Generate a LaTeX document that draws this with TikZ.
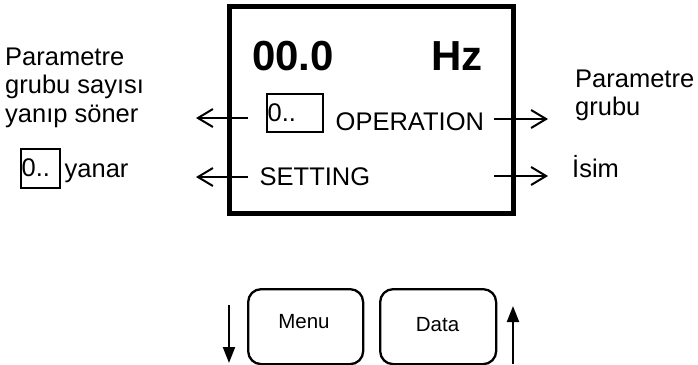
\documentclass[tikz,border=0pt]{standalone}
\usepackage{fontspec}
\setmainfont{Liberation Sans}
\usetikzlibrary{arrows.meta}
\tikzset{
  lbl/.style={anchor=base west, inner sep=0pt, font=\fontsize{25.5}{30}\selectfont},
  big/.style={anchor=base west, inner sep=0pt, font=\fontsize{42}{50}\selectfont\bfseries},
  btn/.style={draw, line width=2.3pt, rounded corners=13pt, inner sep=0pt},
  btntxt/.style={inner sep=0pt, font=\fontsize{20.5}{24}\selectfont},
  outarrow/.style={line width=2pt, -{Straight Barb[length=15pt,width=18pt,line width=2pt]}},
  keyarrow/.style={line width=2.2pt, -{Triangle[length=16pt,width=12pt]}},
  smallbox/.style={draw, line width=1.6pt, inner sep=0pt}
}
\begin{document}
\begin{tikzpicture}[x=1pt,y=-1pt]
\useasboundingbox (0,0) rectangle (698,364);
% main display
\draw[line width=5pt] (229.5,6.5) rectangle (513,213.5);
\node[big] (freq) at (252,70) {00.0};
\node[big, anchor=base east] (hz) at (483,70) {Hz};
\node[smallbox, minimum width=56pt, minimum height=38pt, anchor=north west] (zbox) at (266,93) {};
\node[lbl, anchor=base west] (zt) at (267.5,121) {0..};
\node[lbl] (op) at (335.5,130) {OPERATION};
\node[lbl] (set) at (259.5,185) {SETTING};
% arrow coordinates
\coordinate (l1s) at (248,118); \coordinate (l1e) at (196,118);
\coordinate (l2s) at (248,177); \coordinate (l2e) at (196,177);
\coordinate (r1s) at (494,119); \coordinate (r1e) at (548,119);
\coordinate (r2s) at (494,176); \coordinate (r2e) at (548,176);
\draw[outarrow] (l1s) -- (l1e);
\draw[outarrow] (l2s) -- (l2e);
\draw[outarrow] (r1s) -- (r1e);
\draw[outarrow] (r2s) -- (r2e);
% left labels
\node[lbl] (la) at (5,65) {Parametre};
\node[lbl] (lb) at (5,93.5) {grubu sayısı};
\node[lbl] (lc) at (5,122) {yanıp söner};
\node[smallbox, minimum width=39pt, minimum height=39pt, anchor=north west] (lbox) at (20,148) {};
\node[lbl] (lzt) at (21.5,176) {0..};
\node[lbl] (lyan) at (64.5,177) {yanar};
% right labels
\node[lbl] (ra) at (575,87) {Parametre};
\node[lbl] (rb) at (575,115.5) {grubu};
\node[lbl] (rc) at (572,177) {İsim};
% keys
\node[btn, minimum width=115pt, minimum height=75pt, anchor=north west] (menu) at (247,288) {};
\node[btntxt] at (304,322) {Menu};
\node[btn, minimum width=116pt, minimum height=75pt, anchor=north west] (data) at (379,288) {};
\node[btntxt] at (437.5,325) {Data};
\coordinate (dtop) at (229,305); \coordinate (dbot) at (229,363);
\coordinate (ubot) at (513,364); \coordinate (utop) at (513,306);
\draw[keyarrow] (dtop) -- (dbot);
\draw[keyarrow] (ubot) -- (utop);
\end{tikzpicture}
\end{document}
